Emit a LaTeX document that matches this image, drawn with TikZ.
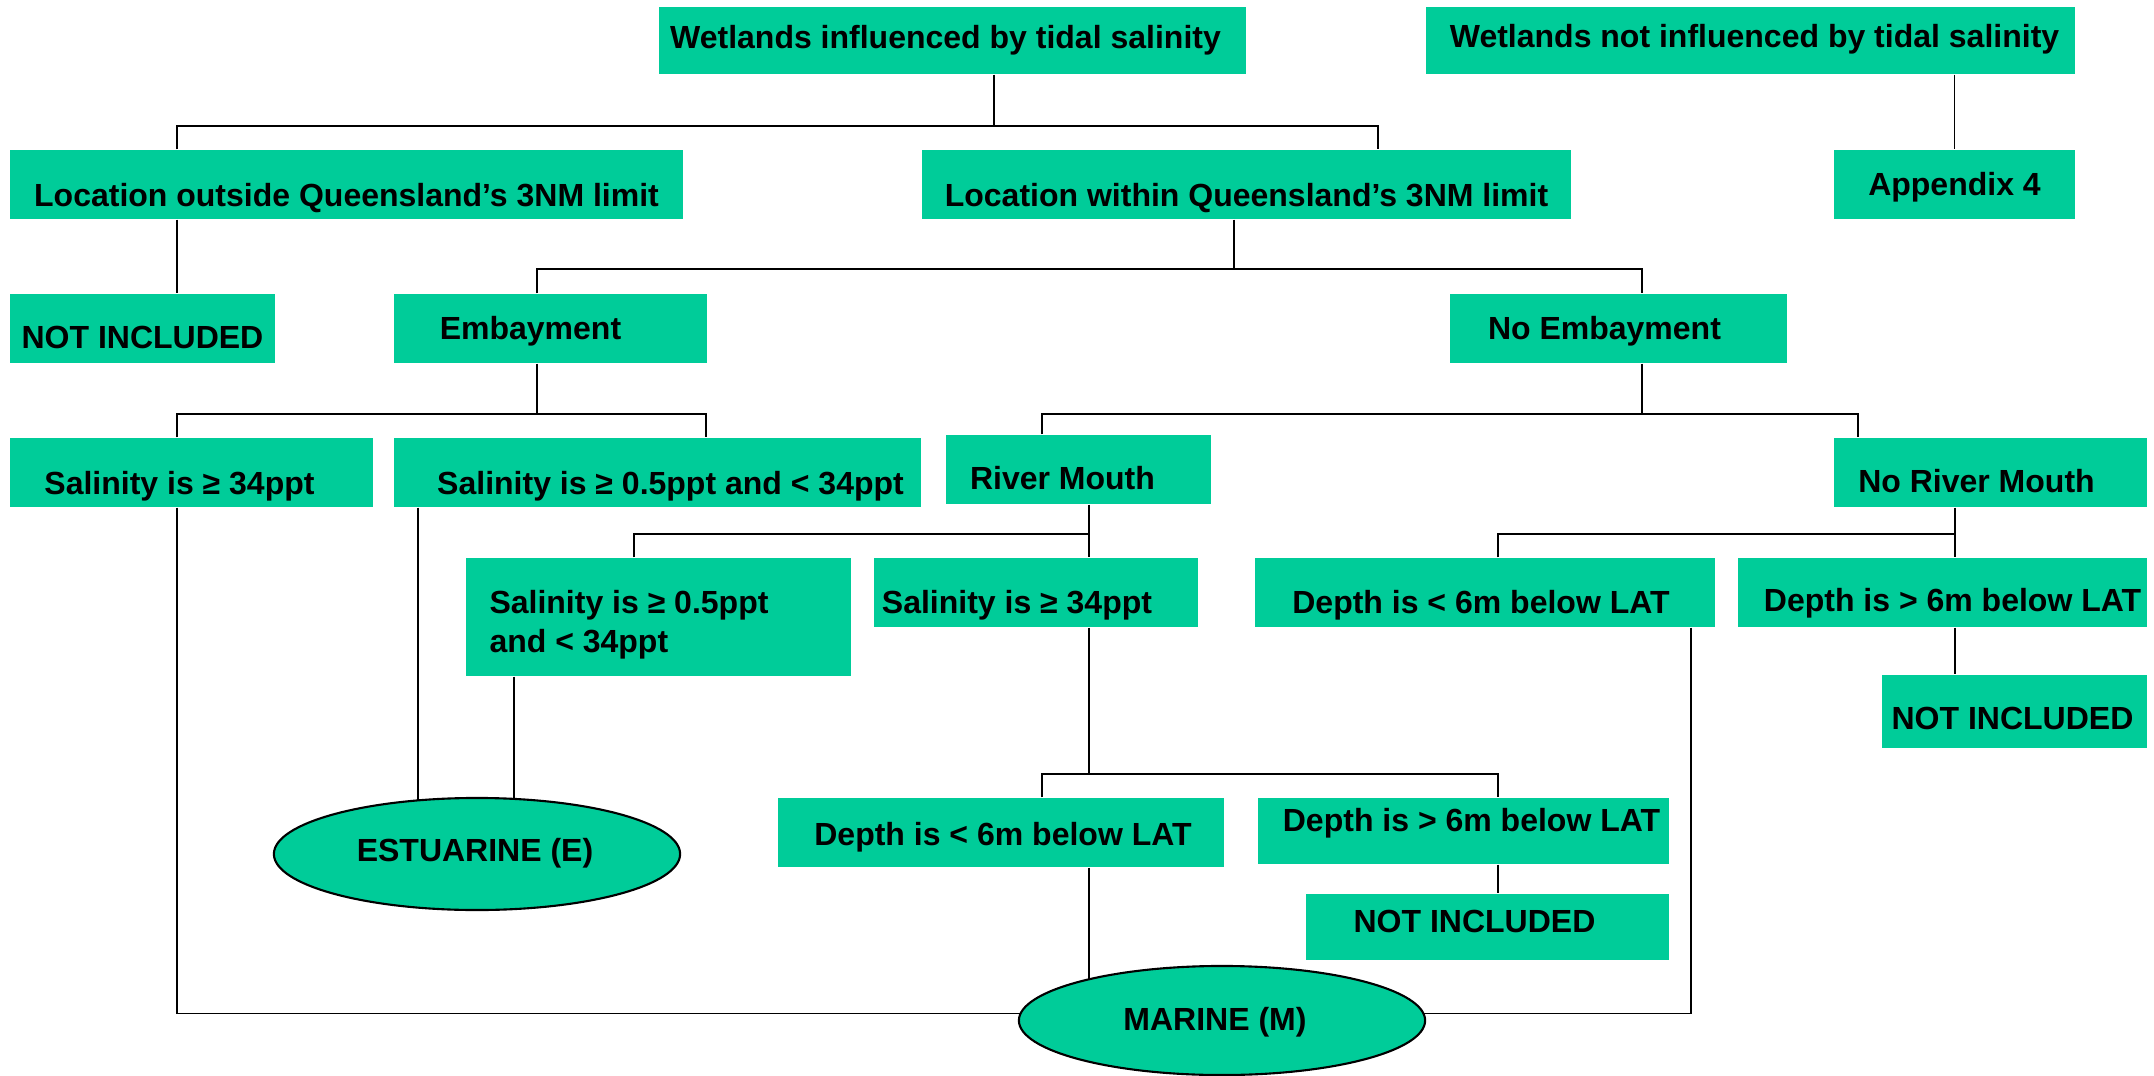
\documentclass[tikz,border=0pt]{standalone}
\usepackage{fontspec}
\setmainfont{Liberation Sans}
\usetikzlibrary{shapes.geometric}
\definecolor{mint}{RGB}{0,204,153}
\pgfdeclarelayer{bg}
\pgfsetlayers{bg,main}
\newcommand{\tx}[3]{\raisebox{#2}{\makebox[0pt]{\hspace{#1}#3}}}
\begin{document}
\begin{tikzpicture}[x=0.01cm,y=-0.01cm,
  box/.style={fill=mint, inner sep=0pt, font=\fontsize{9.1}{11}\selectfont\bfseries, text height=6.5pt, text depth=0pt},
  oval/.style={ellipse, fill=mint, draw=black, line width=0.6pt, inner sep=0pt, font=\fontsize{9.1}{11}\selectfont\bfseries, text height=6.5pt, text depth=0pt},
  conn/.style={draw=black, line width=0.55pt}]
\useasboundingbox (0,0) rectangle (2154,1076);

\node[box, minimum width=5.87cm, minimum height=0.67cm] (B1) at (952.5,40.5) {\tx{-0.14cm}{0.03cm}{Wetlands influenced by tidal salinity}};
\node[box, minimum width=6.49cm, minimum height=0.67cm] (B2) at (1750.5,40.5) {\tx{0.08cm}{0.04cm}{Wetlands not influenced by tidal salinity}};
\node[box, minimum width=6.73cm, minimum height=0.69cm] (B3) at (346.5,184.5) {\tx{0cm}{-0.11cm}{Location outside Queensland’s 3NM limit}};
\node[box, minimum width=6.49cm, minimum height=0.69cm] (B4) at (1246.5,184.5) {\tx{0cm}{-0.11cm}{Location within Queensland’s 3NM limit}};
\node[box, minimum width=2.41cm, minimum height=0.69cm] (B5) at (1954.5,184.5) {\tx{0cm}{0cm}{Appendix 4}};
\node[box, minimum width=2.65cm, minimum height=0.69cm] (B6) at (142.5,328.5) {\tx{0cm}{-0.09cm}{NOT INCLUDED}};
\node[box, minimum width=3.13cm, minimum height=0.69cm] (B7) at (550.5,328.5) {\tx{-0.40cm}{0cm}{Embayment}};
\node[box, minimum width=3.37cm, minimum height=0.69cm] (B8) at (1618.5,328.5) {\tx{-0.28cm}{0cm}{No Embayment}};
\node[box, minimum width=3.63cm, minimum height=0.69cm] (B9) at (191.5,472.5) {\tx{-0.24cm}{-0.11cm}{Salinity is ≥ 34ppt}};
\node[box, minimum width=5.27cm, minimum height=0.69cm] (B10) at (657.5,472.5) {\tx{0.26cm}{-0.11cm}{Salinity is ≥ 0.5ppt and < 34ppt}};
\node[box, minimum width=2.65cm, minimum height=0.69cm] (B11) at (1078.5,469.5) {\tx{-0.32cm}{-0.09cm}{River Mouth}};
\node[box, minimum width=3.13cm, minimum height=0.69cm] (B12) at (1990.5,472.5) {\tx{-0.28cm}{-0.09cm}{No River Mouth}};
\node[box, minimum width=3.85cm, minimum height=1.18cm] (B13) at (658.5,617) {\tx{-0.59cm}{-0.05cm}{\begin{tabular}{@{}l@{}}Salinity is ≥ 0.5ppt\\and < 34ppt\end{tabular}}};
\node[box, minimum width=3.24cm, minimum height=0.69cm] (B14) at (1036,592.5) {\tx{-0.38cm}{-0.10cm}{Salinity is ≥ 34ppt}};
\node[box, minimum width=4.60cm, minimum height=0.69cm] (B15) at (1485,592.5) {\tx{-0.08cm}{-0.10cm}{Depth is < 6m below LAT}};
\node[box, minimum width=4.09cm, minimum height=0.69cm] (B16) at (1942.5,592.5) {\tx{0.20cm}{-0.08cm}{Depth is > 6m below LAT}};
\node[box, minimum width=2.65cm, minimum height=0.73cm] (B17) at (2014.5,711.5) {\tx{-0.04cm}{-0.07cm}{NOT INCLUDED}};
\node[box, minimum width=4.46cm, minimum height=0.69cm] (B18) at (1001,832.5) {\tx{0.04cm}{-0.02cm}{Depth is < 6m below LAT}};
\node[box, minimum width=4.11cm, minimum height=0.66cm] (B19) at (1463.5,831) {\tx{0.16cm}{0.11cm}{Depth is > 6m below LAT}};
\node[box, minimum width=3.63cm, minimum height=0.66cm] (B20) at (1487.5,927) {\tx{-0.26cm}{0.06cm}{NOT INCLUDED}};
\node[oval, minimum width=4.06cm, minimum height=1.12cm] (E1) at (477,854) {\tx{-0.04cm}{0.04cm}{ESTUARINE (E)}};
\node[oval, minimum width=4.06cm, minimum height=1.09cm] (E2) at (1222,1020.5) {\tx{-0.14cm}{0.01cm}{MARINE (M)}};

\coordinate (t1) at (994,126);
\coordinate (t2) at (1234,269);
\coordinate (t3) at (537,414);
\coordinate (t4) at (1642,414);
\coordinate (t5) at (1089,534);
\coordinate (t6) at (1089,774);
\coordinate (t7) at (1955,534);

\begin{pgfonlayer}{bg}
\draw[conn] (B1.south -| t1) -- (t1);
\draw[conn] (B3.north -| 177,0) |- (t1) -| (B4.north -| 1378,0);
\draw[conn] (B5.north |- B2.south) -- (B5.north);
\draw[conn] (B3.south -| 177,0) -- (B6.north -| 177,0);
\draw[conn] (B4.south -| t2) -- (t2);
\draw[conn] (B7.north -| 537,0) |- (t2) -| (B8.north -| 1642,0);
\draw[conn] (B7.south -| t3) -- (t3);
\draw[conn] (B9.north -| 177,0) |- (t3) -| (B10.north -| 706,0);
\draw[conn] (B8.south -| t4) -- (t4);
\draw[conn] (B11.north -| 1042,0) |- (t4) -| (B12.north -| 1858,0);
\draw[conn] (B11.south -| t5) -- (B14.north -| t5);
\draw[conn] (B13.north -| 634,0) |- (t5);
\draw[conn] (B14.south -| t6) -- (t6);
\draw[conn] (B18.north -| 1042,0) |- (t6) -| (B19.north -| 1498,0);
\draw[conn] (B18.south -| 1089,0) -- (E2.center -| 1089,0);
\draw[conn] (B19.south -| 1498,0) -- (B20.north -| 1498,0);
\draw[conn] (B12.south -| t7) -- (B16.north -| t7);
\draw[conn] (B15.north -| 1498,0) |- (t7);
\draw[conn] (B16.south -| 1955,0) -- (B17.north -| 1955,0);
\draw[conn] (B15.south -| 1691,0) |- ([yshift=0.07cm]E2.center);
\draw[conn] (B9.south -| 177,0) |- ([yshift=0.07cm]E2.center);
\draw[conn] (B10.south -| 418,0) -- (E1.center -| 418,0);
\draw[conn] (B13.south -| 514,0) -- (E1.center -| 514,0);
\end{pgfonlayer}
\end{tikzpicture}
\end{document}
